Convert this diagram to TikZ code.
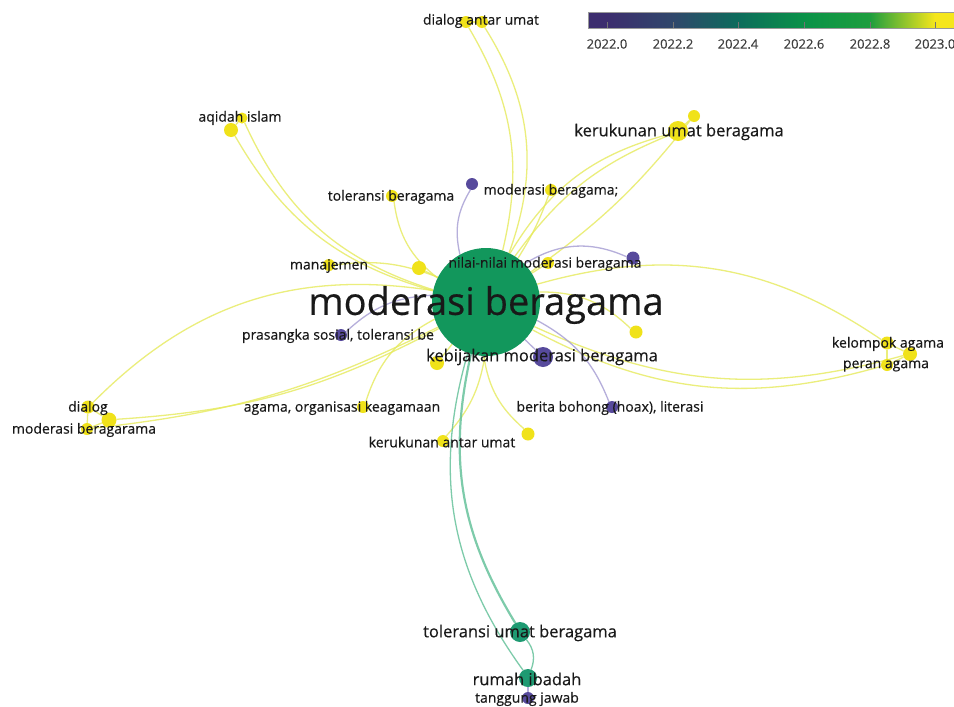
\documentclass[tikz,border=0pt]{standalone}
\usepackage{fontspec}
\newfontfamily\vosfont[FakeBold=0.4]{Open Sans}
\usetikzlibrary{backgrounds}

\definecolor{vyel}{HTML}{F0E21A}
\definecolor{vpur}{HTML}{574A9C}
\definecolor{vgrn}{HTML}{12975C}
\definecolor{vteal}{HTML}{1E9A72}
\definecolor{eyel}{HTML}{E6EA5C}
\definecolor{epur}{HTML}{A49BD2}
\definecolor{egrn}{HTML}{5DBE95}
\definecolor{cb0}{HTML}{3C2D6E}
\definecolor{cb1}{HTML}{30476B}
\definecolor{cb2}{HTML}{0C6C5C}
\definecolor{cb3}{HTML}{0A9248}
\definecolor{cb4}{HTML}{1E9E3E}
\definecolor{cb5}{HTML}{F5E61C}

\begin{document}
\begin{tikzpicture}[x=1pt,y=-1pt,
    item/.style={circle,inner sep=0pt,minimum size=#1},
    yel/.style={item=#1,fill=vyel},
    pur/.style={item=#1,fill=vpur},
    grn/.style={item=#1,fill=vteal},
    lbl/.style={inner sep=0pt,text=black!90,font=\vosfont\fontsize{14}{14}\selectfont},
    midlbl/.style={inner sep=0pt,text=black!90,font=\vosfont\fontsize{16.5}{16.5}\selectfont},
    link/.style={line width=1.3pt,opacity=.8},
    ylink/.style={link,draw=eyel},
    plink/.style={link,draw=epur},
    glink/.style={link,draw=egrn}]
  \useasboundingbox (0,0) rectangle (954,707);

  % items
  \node[item=108pt,fill=vgrn] (mb) at (486,302) {};
  \node[yel=12pt] (dau1) at (466,22) {};
  \node[yel=12pt] (dau2) at (482,22) {};
  \node[yel=11pt] (aq1) at (242,118) {};
  \node[yel=14pt] (aq2) at (231,130) {};
  \node[yel=20pt] (kub) at (678,131) {};
  \node[yel=12pt] (kub2) at (694,116) {};
  \node[yel=12pt] (tb) at (392,196) {};
  \node[pur=12pt] (pu1) at (472,184) {};
  \node[yel=12pt] (mbs) at (551,190) {};
  \node[yel=12pt] (nn) at (548,263) {};
  \node[pur=13pt] (pu2) at (633,258) {};
  \node[yel=12pt] (man) at (329,265) {};
  \node[yel=14pt] (ye1) at (419,268) {};
  \node[pur=12pt] (ps) at (341,335) {};
  \node[yel=13pt] (ye2) at (636,332) {};
  \node[pur=20pt] (kmb) at (543,357) {};
  \node[yel=14pt] (ye3) at (437,363) {};
  \node[yel=13pt] (kel) at (887,343) {};
  \node[yel=14pt] (kel2) at (910,354) {};
  \node[yel=12pt] (per) at (887,365) {};
  \node[yel=13pt] (dl) at (88,407) {};
  \node[yel=15pt] (dl2) at (109,420) {};
  \node[yel=12pt] (mbr) at (87,429) {};
  \node[yel=12pt] (ao) at (363,407) {};
  \node[pur=12pt] (bb) at (612,407) {};
  \node[yel=12pt] (kau) at (443,441) {};
  \node[yel=13pt] (ye4) at (528,434) {};
  \node[grn=20pt] (tub) at (520,632) {};
  \node[grn=18pt] (ri) at (528,678) {};
  \node[pur=12pt] (tj) at (528,698) {};

  % links
  \begin{pgfonlayer}{background}
    \fill[white] (0,0) rectangle (954,707);
    \path[ylink]
      (mb) edge[bend right=22] (dau1)
      (mb) edge[bend right=26] (dau2)
      (mb) edge[bend left=22] (aq2)
      (mb) edge[bend left=24] (aq1)
      (mb) edge[bend left=22] (kub)
      (mb) edge[bend left=16] (kub)
      (mb) edge[bend right=8] (kub2)
      (kub) edge (kub2)
      (mb) edge[bend left=22] (tb)
      (mb) edge[bend right=6] (mbs)
      (mb) edge (nn)
      (mb) edge[bend right=14] (man)
      (mb) edge (ye1)
      (mb) edge[bend left=22] (ye2)
      (mb) edge (ye3)
      (mb) edge[bend left=25] (kel)
      (mb) edge[bend right=20] (kel2)
      (mb) edge[bend right=22] (per)
      (kel) edge (kel2) (kel2) edge (per) (kel) edge (per)
      (mb) edge[bend right=27] (dl)
      (mb) edge[bend left=12] (dl2)
      (mb) edge[bend left=10] (mbr)
      (dl) edge (dl2) (dl2) edge (mbr) (dl) edge (mbr)
      (mb) edge[bend right=22] (ao)
      (mb) edge[bend left=16] (kau)
      (mb) edge[bend right=20] (ye4)
      (aq1) edge (aq2)
      (dau1) edge (dau2);
    \path[plink]
      (mb) edge[bend left=22] (pu1)
      (mb) edge[bend left=28] (pu2)
      (mb) edge[bend right=20] (ps)
      (mb) edge (kmb)
      (mb) edge[bend left=20] (bb)
      (ri) edge (tj);
    \path[glink]
      (mb) edge[bend right=22,line width=2.2pt] (tub)
      (mb) edge[bend right=26] (ri)
      (tub) edge[bend left=30] (ri);
  \end{pgfonlayer}

  % labels
  \node[inner sep=0pt,text=black!90,font=\vosfont\fontsize{38}{38}\selectfont] (mbl) at (486,305) {moderasi beragama};
  \node[lbl] (daul) at (481,21) {dialog antar umat};
  \node[lbl] (aql) at (240,118) {aqidah islam};
  \node[midlbl] (kubl) at (679,132) {kerukunan umat beragama};
  \node[lbl] (tbl) at (391,197) {toleransi beragama};
  \node[lbl] (mbsl) at (551,191) {moderasi beragama;};
  \node[lbl] (nnl) at (545,264) {nilai-nilai moderasi beragama};
  \node[lbl] (manl) at (329,266) {manajemen};
  \node[lbl] (psl) at (338,336) {prasangka sosial, toleransi be};
  \node[midlbl] (kmbl) at (542,357) {kebijakan moderasi beragama};
  \node[lbl] (kell) at (888,344) {kelompok agama};
  \node[lbl] (perl) at (886,366) {peran agama};
  \node[lbl] (dll) at (88,408) {dialog};
  \node[lbl] (mbrl) at (84,430) {moderasi beragarama};
  \node[lbl] (aol) at (342,408) {agama, organisasi keagamaan};
  \node[lbl] (bbl) at (610,408) {berita bohong (hoax), literasi};
  \node[lbl] (kaul) at (442,442) {kerukunan antar umat};
  \node[midlbl] (tubl) at (520,633) {toleransi umat beragama};
  \node[midlbl] (ril) at (527,679) {rumah ibadah};
  \node[lbl] (tjl) at (527,699) {tanggung jawab};

  % colour bar
  \fill[cb0] (588,12) rectangle (607,28);
  \shade[left color=cb0,right color=cb1] (607,12) rectangle (673,28);
  \shade[left color=cb1,right color=cb2] (673,12) rectangle (738,28);
  \shade[left color=cb2,right color=cb3] (738,12) rectangle (804,28);
  \shade[left color=cb3,right color=cb4] (804,12) rectangle (870,28);
  \shade[left color=cb4,right color=cb5] (870,12) rectangle (935,28);
  \fill[cb5] (935,12) rectangle (954,28);
  \draw[black!40,line width=.6pt] (588,12) rectangle (954,28);
  \foreach \x/\v in {607/2022.0,673/2022.2,738/2022.4,804/2022.6,870/2022.8,935/2023.0}
    \node[inner sep=0pt,text=black!75,font=\vosfont\fontsize{13}{13}\selectfont] (t\x) at (\x,44) {\v};
  \foreach \x in {607,673,738,804,870,935}
    \draw[black!55,line width=.8pt] (\x,22) -- (\x,28);
\end{tikzpicture}
\end{document}
